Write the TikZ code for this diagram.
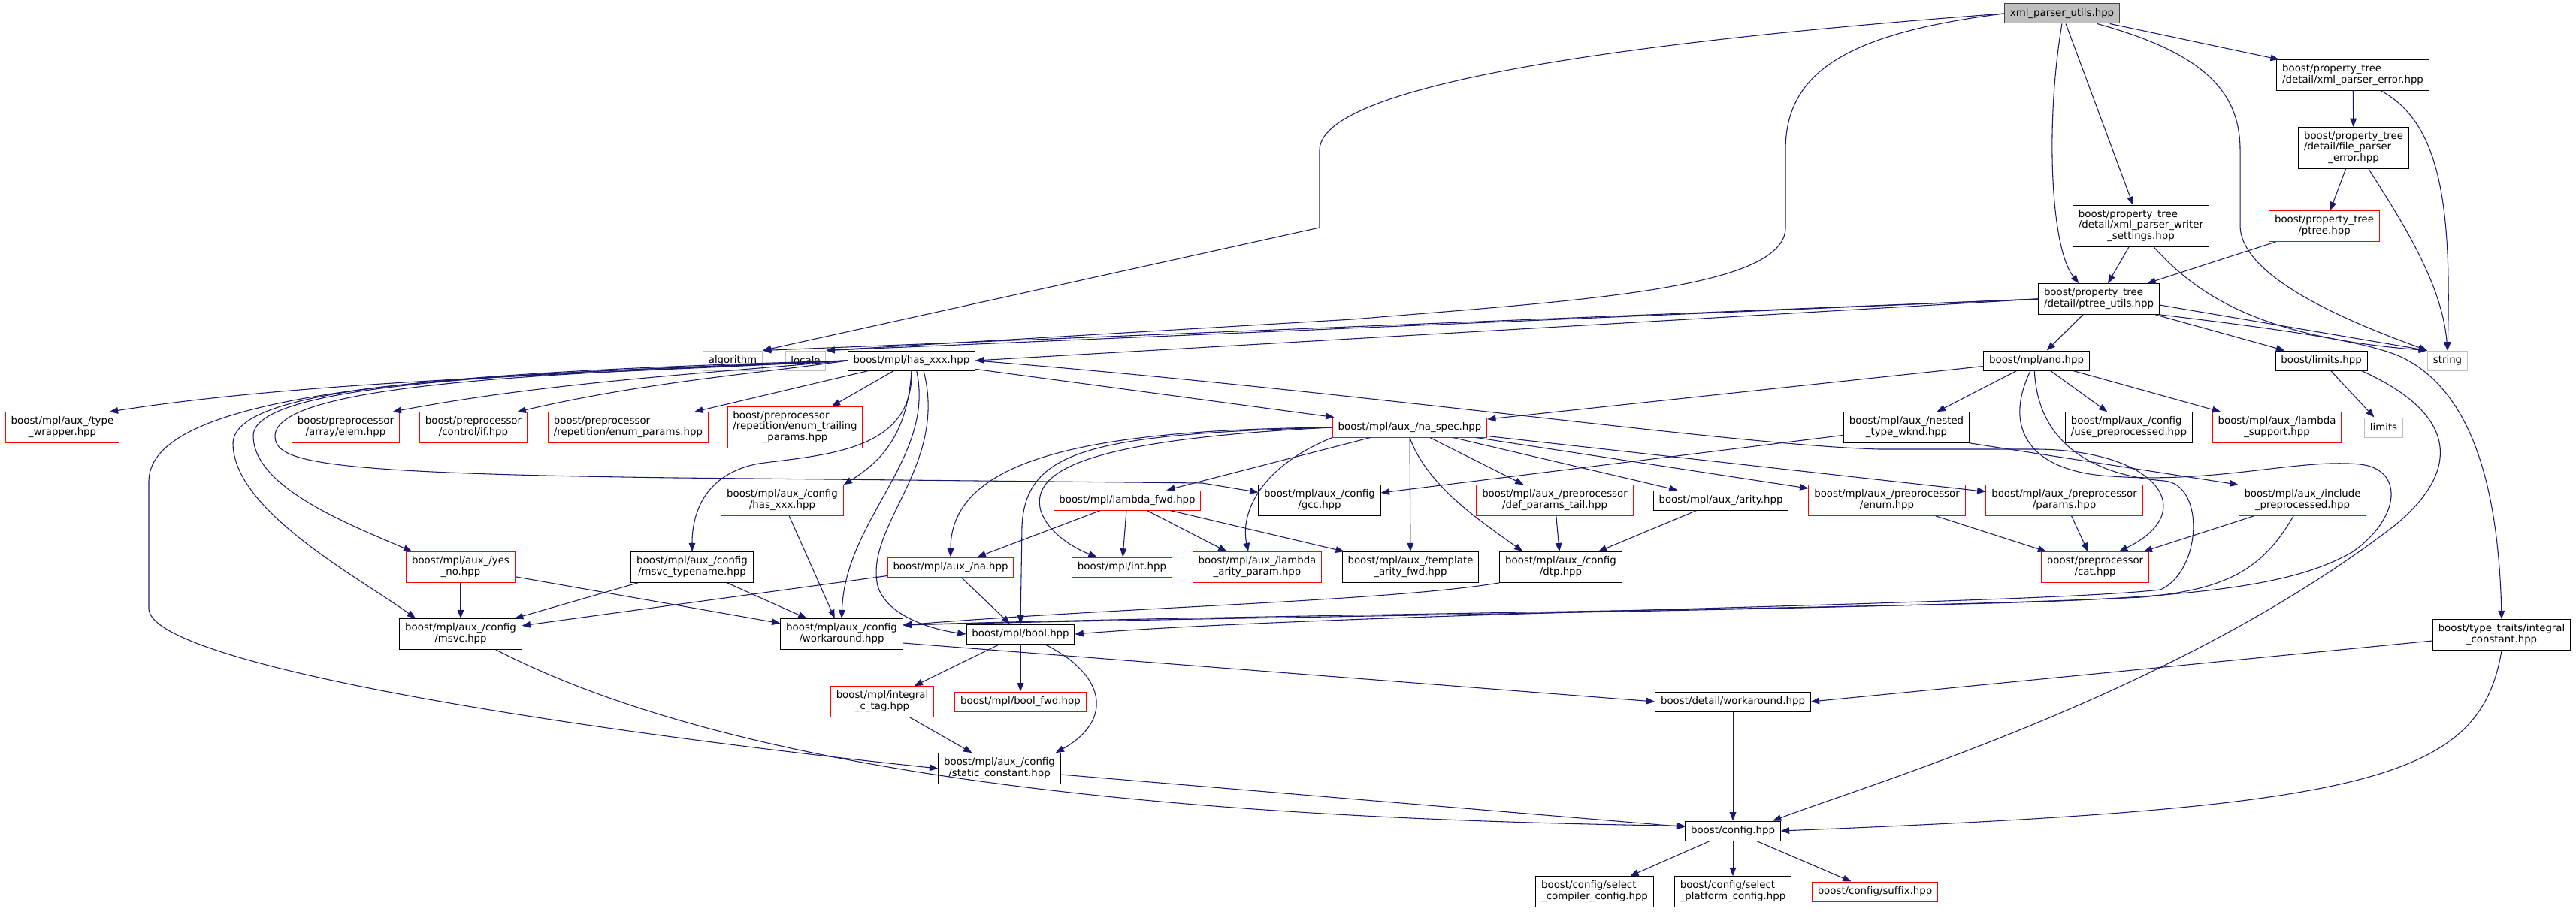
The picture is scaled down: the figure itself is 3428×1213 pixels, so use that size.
\documentclass[tikz,border=0pt]{standalone}
\usepackage{fontspec}
\setmainfont{DejaVu Sans}
\usepackage{tikz}
\usetikzlibrary{arrows.meta}
\definecolor{edgeblue}{RGB}{25,25,112}
\definecolor{rootgray}{RGB}{191,191,191}
\definecolor{rootedge}{RGB}{64,64,64}
\definecolor{sysgray}{RGB}{191,191,191}
\newcommand{\dfont}{\fontsize{10pt}{10.5pt}\selectfont}
\newcommand{\flab}[2]{\begin{tabular}{@{}l@{}}#1\\\multicolumn{1}{@{}c@{}}{#2}\end{tabular}}

\begin{document}
\begin{tikzpicture}[x=0.75pt,y=-0.75pt,
    hdr/.style={draw=black,line width=0.75pt,fill=white,font=\dfont,inner xsep=5.5pt,inner ysep=4.5pt,minimum height=19.5pt},
    root/.style={hdr,draw=rootedge,fill=rootgray},
    trunc/.style={hdr,draw=red},
    sys/.style={hdr,draw=sysgray},
    ed/.style={draw=edgeblue,line width=0.8pt,-{Triangle[length=8.5pt,width=6.5pt]}}]
   \fill[white] (0,0) rectangle (3428,1213);
   \useasboundingbox (0,0) rectangle (3428,1213);
   \node[root]  (utils)         at (2744,18)   {xml\_parser\_utils.hpp};
   \node[hdr]   (xpe)           at (3131,100)  {\flab{boost/property\_tree}{/detail/xml\_parser\_error.hpp}};
   \node[hdr]   (fpe)           at (3132,197)  {\flab{boost/property\_tree\\/detail/file\_parser}{\_error.hpp}};
   \node[trunc] (ptree)         at (3093,301)  {\flab{boost/property\_tree}{/ptree.hpp}};
   \node[hdr]   (xpws)          at (2849,301)  {\flab{boost/property\_tree\\/detail/xml\_parser\_writer}{\_settings.hpp}};
   \node[hdr]   (ptu)           at (2793,398)  {\flab{boost/property\_tree}{/detail/ptree\_utils.hpp}};
   \node[sys]   (algorithm)     at (975,480)   {algorithm};
   \node[sys]   (locale)        at (1072,480)  {locale};
   \node[hdr]   (hasxxx)        at (1213,480)  {boost/mpl/has\_xxx.hpp};
   \node[hdr]   (andh)          at (2710,480)  {boost/mpl/and.hpp};
   \node[hdr]   (limitshpp)     at (3089,480)  {boost/limits.hpp};
   \node[sys]   (stringh)       at (3257,480)  {string};
   \node[trunc] (typewrapper)   at (83,569)    {\flab{boost/mpl/aux\_/type}{\_wrapper.hpp}};
   \node[trunc] (arrayelem)     at (460,569)   {\flab{boost/preprocessor}{/array/elem.hpp}};
   \node[trunc] (controlif)     at (630,569)   {\flab{boost/preprocessor}{/control/if.hpp}};
   \node[trunc] (enumparams)    at (836,569)   {\flab{boost/preprocessor}{/repetition/enum\_params.hpp}};
   \node[trunc] (enumtrailing)  at (1058,569)  {\flab{boost/preprocessor\\/repetition/enum\_trailing}{\_params.hpp}};
   \node[trunc] (naspec)        at (1876,569)  {boost/mpl/aux\_/na\_spec.hpp};
   \node[hdr]   (nested)        at (2537,569)  {\flab{boost/mpl/aux\_/nested}{\_type\_wknd.hpp}};
   \node[hdr]   (usepre)        at (2833,569)  {\flab{boost/mpl/aux\_/config}{/use\_preprocessed.hpp}};
   \node[trunc] (lambdasupport) at (3030,569)  {\flab{boost/mpl/aux\_/lambda}{\_support.hpp}};
   \node[sys]   (limits)        at (3172,569)  {limits};
   \node[trunc] (cfghasxxx)     at (1041,666)  {\flab{boost/mpl/aux\_/config}{/has\_xxx.hpp}};
   \node[trunc] (lambdafwd)     at (1500,666)  {boost/mpl/lambda\_fwd.hpp};
   \node[hdr]   (gcc)           at (1756,666)  {\flab{boost/mpl/aux\_/config}{/gcc.hpp}};
   \node[trunc] (defparams)     at (2069,666)  {\flab{boost/mpl/aux\_/preprocessor}{/def\_params\_tail.hpp}};
   \node[hdr]   (arity)         at (2290,666)  {boost/mpl/aux\_/arity.hpp};
   \node[trunc] (ppenum)        at (2511,666)  {\flab{boost/mpl/aux\_/preprocessor}{/enum.hpp}};
   \node[trunc] (ppparams)      at (2747,666)  {\flab{boost/mpl/aux\_/preprocessor}{/params.hpp}};
   \node[trunc] (incpre)        at (3064,666)  {\flab{boost/mpl/aux\_/include}{\_preprocessed.hpp}};
   \node[trunc] (yesno)         at (613,755)   {\flab{boost/mpl/aux\_/yes}{\_no.hpp}};
   \node[hdr]   (msvctypename)  at (921,755)   {\flab{boost/mpl/aux\_/config}{/msvc\_typename.hpp}};
   \node[trunc] (na)            at (1265,755)  {boost/mpl/aux\_/na.hpp};
   \node[trunc] (inth)          at (1493,755)  {boost/mpl/int.hpp};
   \node[trunc] (lambdaarity)   at (1673,755)  {\flab{boost/mpl/aux\_/lambda}{\_arity\_param.hpp}};
   \node[hdr]   (templatearity) at (1877,755)  {\flab{boost/mpl/aux\_/template}{\_arity\_fwd.hpp}};
   \node[hdr]   (dtp)           at (2077,755)  {\flab{boost/mpl/aux\_/config}{/dtp.hpp}};
   \node[trunc] (cat)           at (2788,755)  {\flab{boost/preprocessor}{/cat.hpp}};
   \node[hdr]   (msvc)          at (613,844)   {\flab{boost/mpl/aux\_/config}{/msvc.hpp}};
   \node[hdr]   (cfgworkaround) at (1120,844)  {\flab{boost/mpl/aux\_/config}{/workaround.hpp}};
   \node[hdr]   (boolh)         at (1358,844)  {boost/mpl/bool.hpp};
   \node[hdr]   (intconst)      at (3329,845)  {\flab{boost/type\_traits/integral}{\_constant.hpp}};
   \node[trunc] (intctag)       at (1174,934)  {\flab{boost/mpl/integral}{\_c\_tag.hpp}};
   \node[trunc] (boolfwd)       at (1358,934)  {boost/mpl/bool\_fwd.hpp};
   \node[hdr]   (detailwa)      at (2306,934)  {boost/detail/workaround.hpp};
   \node[hdr]   (staticconst)   at (1330,1023) {\flab{boost/mpl/aux\_/config}{/static\_constant.hpp}};
   \node[hdr]   (config)        at (2306,1106) {boost/config.hpp};
   \node[hdr]   (selcompiler)   at (2122,1187) {\flab{boost/config/select}{\_compiler\_config.hpp}};
   \node[hdr]   (selplatform)   at (2306,1187) {\flab{boost/config/select}{\_platform\_config.hpp}};
   \node[trunc] (suffix)        at (2495,1187) {boost/config/suffix.hpp};
   \draw[ed] (utils)--(xpe); \draw[ed] (utils)--(xpws);
   \draw[ed] (utils.south) .. controls (2722,160) and (2728,330) .. ([xshift=-20pt]ptu.north);
   \draw[ed] ([xshift=35pt]utils.south) .. controls (2930,70) and (2981,120) .. (2981,200) -- (2981,300) .. controls (2981,370) and (3130,430) .. (stringh.north west);
   \draw[ed] (utils.west) .. controls (2100,60) and (1756,120) .. (1756,200) -- (1756,303) -- (algorithm.north east);
   \draw[ed] (utils.west) .. controls (2450,45) and (2376,100) .. (2376,200) -- (2376,303) .. controls (2376,385) and (2100,400) .. (1800,425) -- (locale.north east);
   \draw[ed] (xpws)--(ptu);
   \draw[ed] ([xshift=13pt]xpws.south) .. controls (2930,400) and (3020,450) .. (stringh.north west);
   \draw[ed] (xpe)--(fpe);
   \draw[ed] ([xshift=28pt]xpe.south) .. controls (3250,165) and (3262,280) .. (stringh.north);
   \draw[ed] (fpe)--(ptree);
   \draw[ed] ([xshift=15pt]fpe.south) .. controls (3200,300) and (3250,380) .. (stringh.north);
   \draw[ed] (ptree)--(ptu);
   \draw[ed] (ptu.west)--(algorithm.north east); \draw[ed] (ptu.west)--(locale.north east); \draw[ed] (ptu.west)--(hasxxx.east);
   \draw[ed] (ptu)--(andh); \draw[ed] (ptu)--(limitshpp);
   \draw[ed] ([yshift=-6pt]ptu.east)--(stringh.north west);
   \draw[ed] (ptu.south east) .. controls (3050,440) and (3150,455) .. (3195,475) .. controls (3290,520) and (3325,650) .. (intconst.north);
   \draw[ed] (hasxxx.west) .. controls (800,498) and (420,505) .. ([xshift=-10pt]typewrapper.north east);
   \draw[ed] (hasxxx.west) .. controls (950,496) and (720,510) .. ([xshift=-7pt]arrayelem.north east);
   \draw[ed] (hasxxx.west) .. controls (1020,496) and (860,508) .. ([xshift=-10pt]controlif.north east);
   \draw[ed] (hasxxx)--(enumparams); \draw[ed] (hasxxx)--(enumtrailing); \draw[ed] (hasxxx)--(naspec);
   \draw[ed] (hasxxx.west) .. controls (750,496) and (338,505) .. (337,580) .. controls (337,650) and (470,700) .. ([xshift=6pt]yesno.north west);
   \draw[ed] (hasxxx.west) .. controls (700,498) and (312,505) .. (310,590) .. controls (310,680) and (480,770) .. ([xshift=-45pt]msvc.north);
   \draw[ed] (hasxxx.west) .. controls (600,495) and (200,520) .. (198,640) -- (198,810) .. controls (198,880) and (700,965) .. (staticconst.west);
   \draw[ed] (hasxxx.west) .. controls (800,496) and (368,505) .. (366,580) .. controls (366,615) and (420,630) .. (900,636) -- (1600,643) -- ([yshift=8pt]gcc.west);
   \draw[ed] (hasxxx.south) .. controls (1208,570) and (1180,610) .. (cfghasxxx.north east);
   \draw[ed] (hasxxx.south) .. controls (1216,600) and (1100,605) .. (1010,617) .. controls (940,630) and (921,680) .. (msvctypename.north);
   \draw[ed] ([xshift=5pt]hasxxx.south) .. controls (1245,610) and (1125,690) .. (cfgworkaround.north);
   \draw[ed] ([xshift=12pt]hasxxx.south) .. controls (1262,620) and (1150,700) .. (1168,780) .. controls (1180,820) and (1240,838) .. (boolh.west);
   \draw[ed] (hasxxx.east) .. controls (1800,520) and (2300,592) .. (2500,598) -- (2712,598) .. controls (2870,600) and (2930,680) .. ([xshift=24pt]cat.north);
   \draw[ed] (naspec)--(lambdafwd); \draw[ed] (naspec)--(templatearity);
   \draw[ed] (naspec)--(defparams); \draw[ed] (naspec)--(arity);
   \draw[ed] (naspec)--(ppenum); \draw[ed] (naspec)--(ppparams);
   \draw[ed] (naspec.west) .. controls (1450,572) and (1265,610) .. (na.north);
   \draw[ed] (naspec.west) .. controls (1450,585) and (1370,625) .. (1385,680) .. controls (1395,710) and (1430,730) .. ([xshift=-25pt]inth.north);
   \draw[ed] (naspec.west) .. controls (1450,578) and (1365,600) .. (1360,700) -- (boolh.north);
   \draw[ed] (naspec.south west) .. controls (1680,620) and (1650,680) .. ([xshift=-9pt]lambdaarity.north);
   \draw[ed] (naspec.south) .. controls (1900,650) and (1980,700) .. ([xshift=-38pt]dtp.north);
   \draw[ed] (andh)--(naspec); \draw[ed] (andh)--(nested); \draw[ed] (andh)--(usepre); \draw[ed] (andh)--(lambdasupport);
   \draw[ed] ([xshift=-2pt]andh.south) .. controls (2712,600) and (2800,634) .. (2880,640) .. controls (2935,645) and (2930,760) .. (2875,785) .. controls (2700,805) and (1800,815) .. (boolh.east);
   \draw[ed] ([xshift=-6pt]andh.south) .. controls (2665,570) and (2700,628) .. (2810,634) .. controls (2950,644) and (3060,610) .. (3140,618) .. controls (3200,624) and (3195,690) .. (3130,735) .. controls (3060,775) and (2950,795) .. (2650,803) .. controls (2300,812) and (1500,822) .. ([yshift=9pt]cfgworkaround.east);
   \draw[ed] (nested)--(gcc); \draw[ed] (nested.south east)--(incpre.north west);
   \draw[ed] (incpre)--(cat);
   \draw[ed] ([xshift=-9pt]incpre.south) .. controls (3010,760) and (2960,785) .. (2850,795) .. controls (2500,812) and (1600,822) .. ([yshift=9pt]cfgworkaround.east);
   \draw[ed] (dtp.south west) .. controls (1850,800) and (1500,808) .. ([yshift=9pt]cfgworkaround.east);
   \draw[ed] (defparams)--(dtp); \draw[ed] (arity)--(dtp);
   \draw[ed] (ppenum)--(cat); \draw[ed] (ppparams)--(cat);
   \draw[ed] (lambdafwd)--(na); \draw[ed] (lambdafwd)--(inth);
   \draw[ed] (lambdafwd)--(lambdaarity); \draw[ed] (lambdafwd)--(templatearity);
   \draw[ed] (na)--(boolh); \draw[ed] (na)--(msvc);
   \draw[ed] (yesno)--(msvc); \draw[ed] (yesno)--(cfgworkaround);
   \draw[ed] (msvctypename)--(msvc); \draw[ed] (msvctypename)--(cfgworkaround);
   \draw[ed] (cfghasxxx)--(cfgworkaround);
   \draw[ed] (boolh)--(intctag); \draw[ed] (boolh)--(boolfwd);
   \draw[ed] ([xshift=24pt]boolh.south) .. controls (1475,900) and (1480,960) .. ([xshift=56pt]staticconst.north);
   \draw[ed] (intctag)--(staticconst);
   \draw[ed] ([xshift=35pt]msvc.south) .. controls (1000,1040) and (1600,1090) .. ([yshift=5pt]config.west);
   \draw[ed] ([yshift=-6pt]staticconst.east)--([yshift=4pt]config.west);
   \draw[ed] ([yshift=-9pt]cfgworkaround.east)--(detailwa.west);
   \draw[ed] (detailwa)--(config);
   \draw[ed] ([yshift=-6pt]intconst.west)--(detailwa.east);
   \draw[ed] (intconst.south) .. controls (3300,1040) and (3150,1075) .. (config.east);
   \draw[ed] (limitshpp)--(limits);
   \draw[ed] ([xshift=40pt]limitshpp.south) .. controls (3290,560) and (3260,640) .. (3186,700) .. controls (2900,920) and (2500,1040) .. ([xshift=-8pt]config.north east);
   \draw[ed] (config)--(selcompiler); \draw[ed] (config)--(selplatform); \draw[ed] (config)--(suffix);
  \end{tikzpicture}
\end{document}
